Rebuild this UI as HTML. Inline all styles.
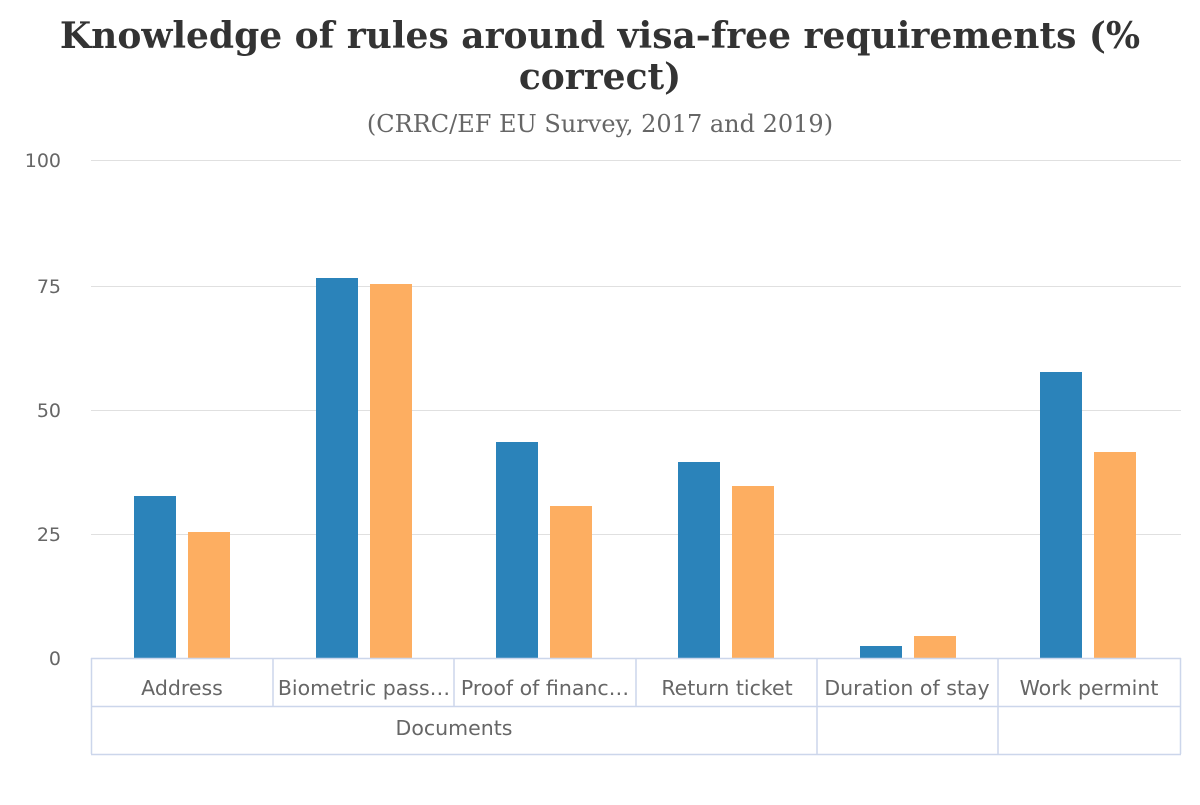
<!DOCTYPE html>
<html><head><meta charset="utf-8"><style>
body{margin:0;background:#fff;width:1200px;height:800px;overflow:hidden}
</style></head><body>
<svg width="1200" height="800" xmlns="http://www.w3.org/2000/svg">
<text x="600" y="48" text-anchor="middle" font-family="DejaVu Serif, serif" font-weight="bold" font-size="36" fill="#333">Knowledge of rules around visa-free requirements (%</text>
<text x="600" y="89" text-anchor="middle" font-family="DejaVu Serif, serif" font-weight="bold" font-size="36" fill="#333">correct)</text>
<text x="600" y="132" text-anchor="middle" font-family="DejaVu Serif, serif" font-size="24" fill="#666">(CRRC/EF EU Survey, 2017 and 2019)</text>
<g stroke="#e0e0e0" stroke-width="1">
<line x1="91" x2="1181" y1="160.5" y2="160.5"/><line x1="91" x2="1181" y1="286.5" y2="286.5"/>
<line x1="91" x2="1181" y1="410.5" y2="410.5"/><line x1="91" x2="1181" y1="534.5" y2="534.5"/>
</g>
<g font-family="DejaVu Sans, sans-serif" font-size="19" fill="#666" text-anchor="end">
<text x="61" y="167">100</text><text x="61" y="293">75</text><text x="61" y="417">50</text><text x="61" y="541">25</text><text x="61" y="665">0</text>
</g>
<g fill="#2b83ba">
<rect x="134" y="496" width="42" height="162"/><rect x="316" y="278" width="42" height="380"/>
<rect x="496" y="442" width="42" height="216"/><rect x="678" y="462" width="42" height="196"/>
<rect x="860" y="646" width="42" height="12"/><rect x="1040" y="372" width="42" height="286"/>
</g>
<g fill="#fdae61">
<rect x="188" y="532" width="42" height="126"/><rect x="370" y="284" width="42" height="374"/>
<rect x="550" y="506" width="42" height="152"/><rect x="732" y="486" width="42" height="172"/>
<rect x="914" y="636" width="42" height="22"/><rect x="1094" y="452" width="42" height="206"/>
</g>
<g stroke="#ccd6eb" stroke-width="1.5" fill="none">
<line x1="91" x2="1181" y1="658.5" y2="658.5"/><line x1="91" x2="1181" y1="706.5" y2="706.5"/><line x1="91" x2="1181" y1="754.5" y2="754.5"/>
<line x1="91.5" x2="91.5" y1="658" y2="754"/><line x1="273" x2="273" y1="658" y2="706"/><line x1="454" x2="454" y1="658" y2="706"/>
<line x1="636" x2="636" y1="658" y2="706"/><line x1="817" x2="817" y1="658" y2="754"/><line x1="998" x2="998" y1="658" y2="754"/>
<line x1="1180.5" x2="1180.5" y1="658" y2="754"/>
</g>
<g font-family="DejaVu Sans, sans-serif" font-size="20.5" fill="#666" text-anchor="middle">
<text x="182" y="695">Address</text><text x="364" y="695">Biometric pass…</text><text x="545" y="695">Proof of financ…</text>
<text x="727" y="695">Return ticket</text><text x="907" y="695">Duration of stay</text><text x="1089" y="695">Work permint</text>
<text x="454" y="735">Documents</text>
</g>
</svg>
</body></html>
